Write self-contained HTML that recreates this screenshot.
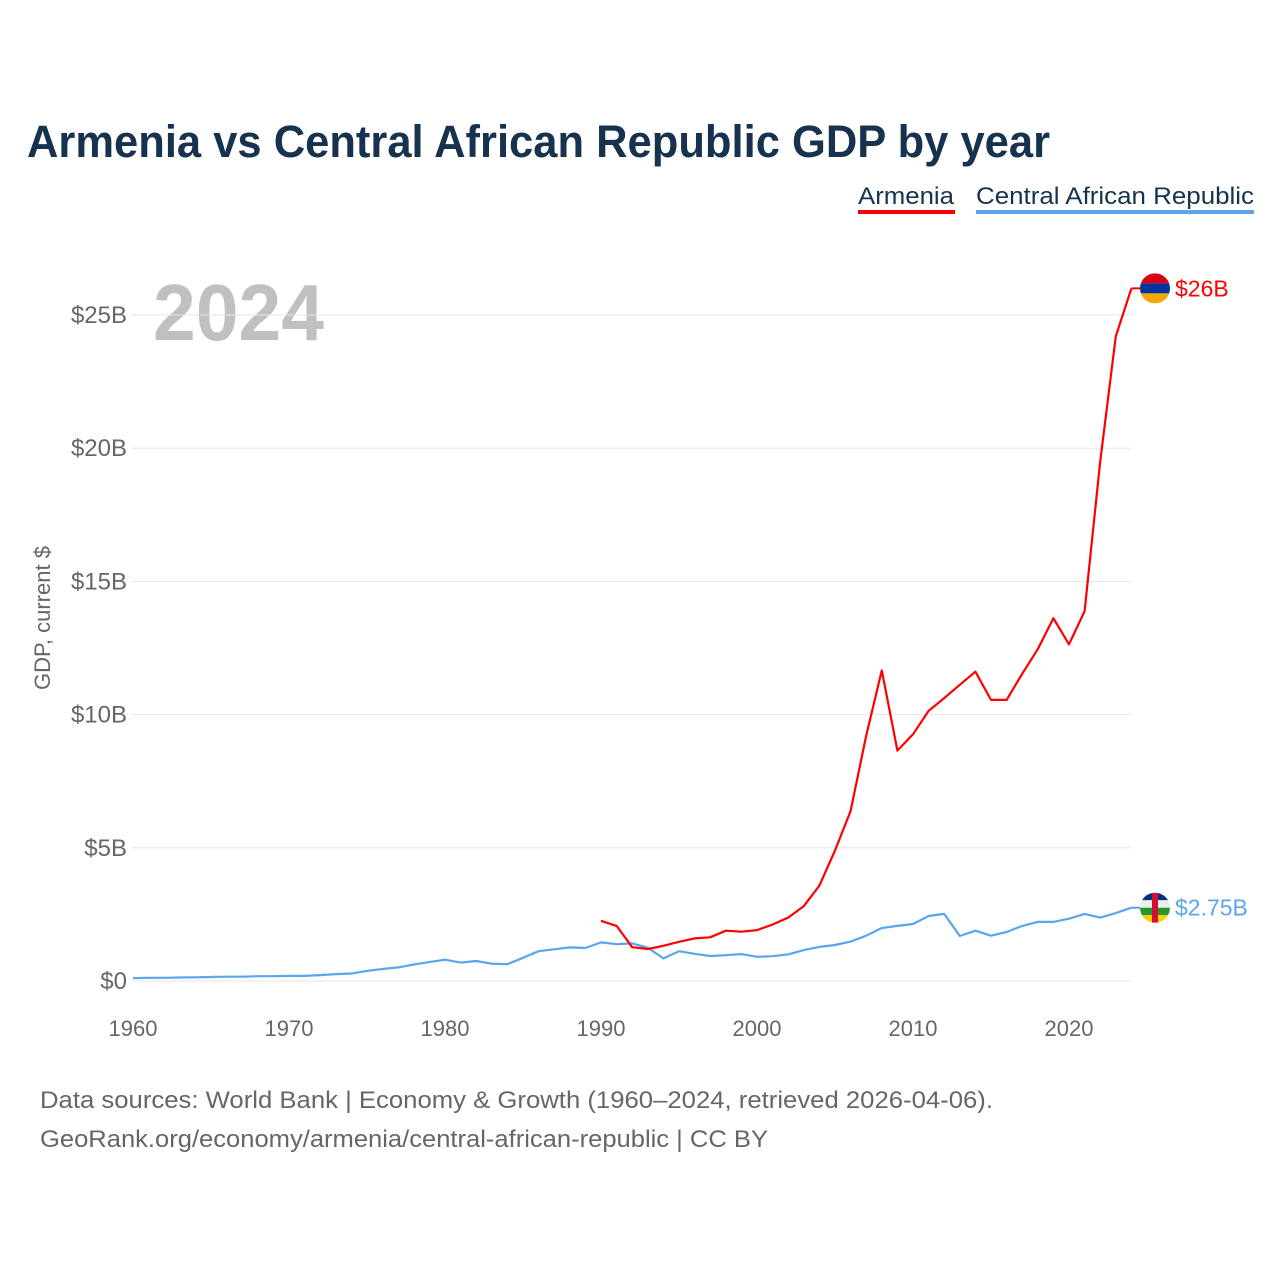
<!DOCTYPE html>
<html><head><meta charset="utf-8"><style>
html,body{margin:0;padding:0;background:#fff;}
svg{display:block;font-family:"Liberation Sans",sans-serif;}
</style></head><body>
<svg id="chart" width="1280" height="1280" viewBox="0 0 1280 1280">
<text x="27" y="157" font-size="45" font-weight="bold" fill="#17324f" textLength="1023" lengthAdjust="spacingAndGlyphs">Armenia vs Central African Republic GDP by year</text>
<g>
<text x="858" y="204" font-size="24" fill="#17324f" textLength="96" lengthAdjust="spacingAndGlyphs">Armenia</text>
<rect x="858" y="210" width="97" height="4" fill="#ff0000"/>
<text x="976" y="204" font-size="24" fill="#17324f" textLength="278" lengthAdjust="spacingAndGlyphs">Central African Republic</text>
<rect x="976" y="210" width="278" height="4" fill="#5aa5ec"/>
</g>
<text x="153" y="340" font-size="80" font-weight="bold" fill="#c0c0c0" textLength="171" lengthAdjust="spacingAndGlyphs">2024</text>
<g id="grid"></g><g id="yticks"></g><g id="xticks"></g>
<text transform="translate(50,618) rotate(-90)" text-anchor="middle" font-size="22" fill="#666">GDP, current $</text>
<g id="series"></g>
<text x="40" y="1108" font-size="24" fill="#666" textLength="953" lengthAdjust="spacingAndGlyphs">Data sources: World Bank | Economy &amp; Growth (1960–2024, retrieved 2026-04-06).</text>
<text x="40" y="1147" font-size="24" fill="#666" textLength="728" lengthAdjust="spacingAndGlyphs">GeoRank.org/economy/armenia/central-african-republic | CC BY</text>
</svg>
<script>
const yTicks=[0,5,10,15,20,25];
const yTickLabels=["$0","$5B","$10B","$15B","$20B","$25B"];
const xTicks=[1960,1970,1980,1990,2000,2010,2020];
const armYears=[1990,1991,1992,1993,1994,1995,1996,1997,1998,1999,2000,2001,2002,2003,2004,2005,2006,2007,2008,2009,2010,2011,2012,2013,2014,2015,2016,2017,2018,2019,2020,2021,2022,2023,2024];
const armGDP=[2.26,2.07,1.27,1.20,1.32,1.47,1.60,1.64,1.89,1.85,1.91,2.12,2.38,2.81,3.58,4.90,6.38,9.21,11.66,8.65,9.26,10.14,10.62,11.12,11.61,10.55,10.55,11.53,12.46,13.62,12.64,13.88,19.5,24.2,26.0];
const carYears=[];for(let y=1960;y<=2024;y++)carYears.push(y);
const carGDP=[0.11,0.12,0.12,0.13,0.14,0.15,0.16,0.16,0.18,0.18,0.19,0.19,0.22,0.26,0.28,0.38,0.45,0.51,0.62,0.71,0.80,0.69,0.75,0.65,0.63,0.87,1.12,1.19,1.26,1.24,1.45,1.38,1.41,1.25,0.85,1.12,1.02,0.94,0.97,1.01,0.91,0.93,1.00,1.16,1.28,1.35,1.48,1.70,1.99,2.07,2.14,2.44,2.52,1.69,1.89,1.70,1.84,2.07,2.22,2.22,2.34,2.52,2.38,2.55,2.75];
const NS="http://www.w3.org/2000/svg";
const xS=y=>133+(y-1960)*15.6;
const yS=v=>981-v*26.64;
function mk(tag,attrs,parent){const e=document.createElementNS(NS,tag);for(const k in attrs)e.setAttribute(k,attrs[k]);parent.appendChild(e);return e;}
const grid=document.getElementById('grid'),yt=document.getElementById('yticks'),xt=document.getElementById('xticks'),ser=document.getElementById('series');
yTicks.forEach((v,i)=>{
 const l=mk('line',{x1:132,x2:1131,y1:yS(v),y2:yS(v),stroke:'#e6e6e6','stroke-width':1},grid);
 
 
 const t=mk('text',{x:127,y:yS(v)+8,'text-anchor':'end','font-size':24,fill:'#666'},yt);
 t.textContent=yTickLabels[i];
 
 
});
xTicks.forEach(v=>{
 const t=mk('text',{x:xS(v),y:1036,'text-anchor':'middle','font-size':22,fill:'#666'},xt);
 t.textContent=v;
 
 
});
function line(years,vals,color,name){
 const d=years.map((y,i)=>(i?'L':'M')+xS(y).toFixed(1)+' '+yS(vals[i]).toFixed(1)).join(' ');
 const p=mk('path',{d:d,fill:'none',stroke:color,'stroke-width':2.2,'stroke-linejoin':'round'},ser);
 
 
}
line(carYears,carGDP,'#5aa5ec','line-car');
line(armYears,armGDP,'#ff0000','line-armenia');
function endLabel(years,vals,color,name,label,stripes){
 const lx=xS(years[years.length-1]),ly=yS(vals[vals.length-1]);
 const cx=1155;
 mk('path',{d:`M${lx} ${ly} L${cx-15} ${ly}`,stroke:color,'stroke-width':2,fill:'none'},ser);
 const g=mk('g',{},ser);
 
 
 const id='clip'+name;
 const cp=mk('clipPath',{id:id},g);mk('circle',{cx:cx,cy:ly,r:15},cp);
 const gg=mk('g',{'clip-path':`url(#${id})`},g);
 stripes(gg,cx,ly);
 const t=mk('text',{x:1175,y:ly+8,'font-size':23,fill:color},ser);
 t.textContent=label;
 
 
}
endLabel(armYears,armGDP,'#ff0000','armenia','$26B',(g,cx,cy)=>{
 mk('rect',{x:cx-15,y:cy-15,width:30,height:10,fill:'#d90012'},g);
 mk('rect',{x:cx-15,y:cy-5,width:30,height:10,fill:'#0033a0'},g);
 mk('rect',{x:cx-15,y:cy+5,width:30,height:10,fill:'#f2a800'},g);
});
endLabel(carYears,carGDP,'#5aa5ec','car','$2.75B',(g,cx,cy)=>{
 const c=['#003082','#eeeeee','#289728','#ffce00'];
 c.forEach((f,i)=>mk('rect',{x:cx-15,y:cy-15+i*7.5,width:30,height:7.5,fill:f},g));
 mk('rect',{x:cx-3,y:cy-15,width:6,height:30,fill:'#d21034'},g);
});
</script>
</body></html>
